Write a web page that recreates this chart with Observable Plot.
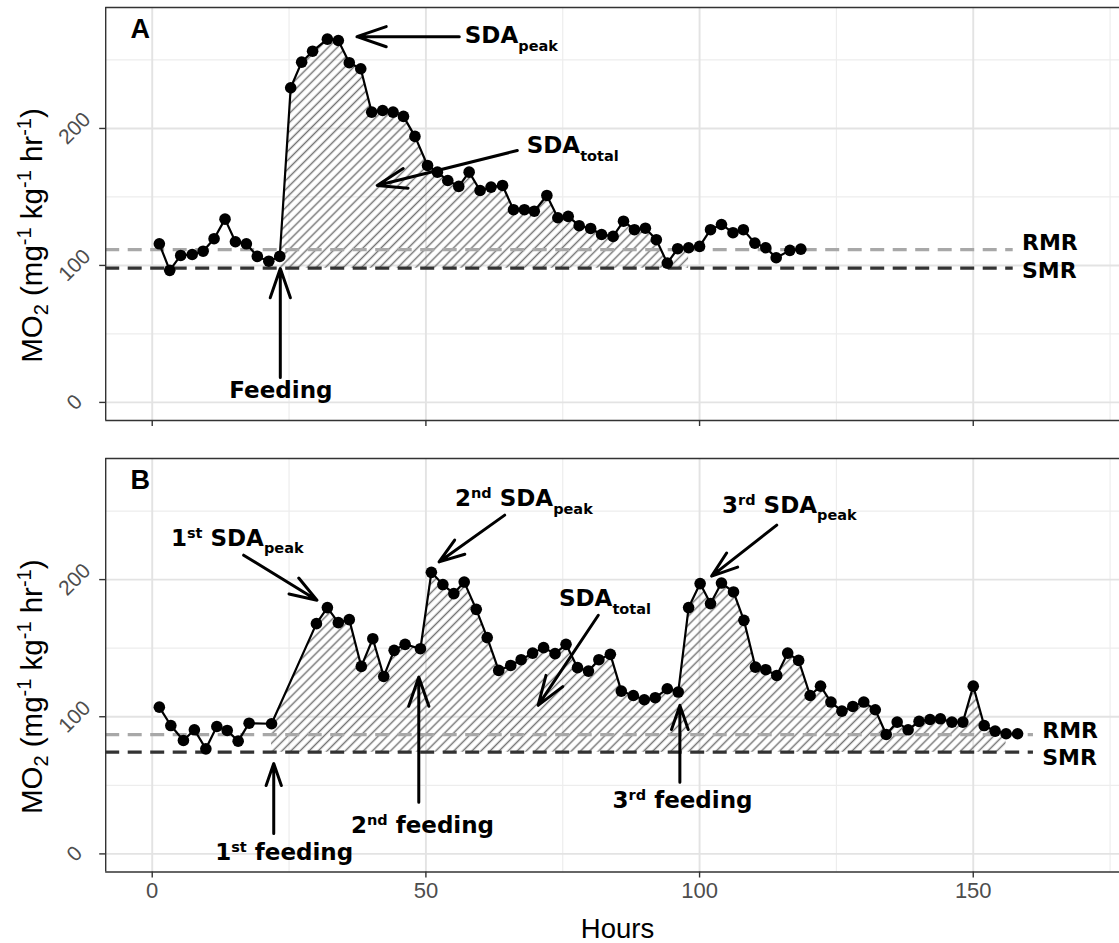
<!DOCTYPE html>
<html>
<head>
<meta charset="utf-8">
<script src="https://cdn.jsdelivr.net/npm/d3@7"></script>
<script src="https://cdn.jsdelivr.net/npm/@observablehq/plot@0.6"></script>
<style>
  html, body { margin: 0; padding: 0; background: #fff; }
  #chart { width: 1119px; }
  #chart svg { display: block; }
</style>
</head>
<body>
<div id="chart"></div>
<script>
// ---------------- DATA ----------------
const hoursA = [1.3,3.2,5.2,7.3,9.3,11.3,13.3,15.2,17.2,19.2,
  21.3,23.3,25.3,27.3,29.3,32.0,34.0,36.0,38.1,40.1,
  42.1,44.0,45.9,48.0,50.3,52.1,54.0,56.0,57.9,59.9,
  61.9,64.0,66.0,68.0,69.8,72.1,74.1,76.0,78.0,80.1,
  82.1,84.2,86.1,88.1,90.1,92.1,94.1,96.0,98.0,100.0,
  102.0,104.0,106.1,108.0,110.1,112.1,114.0,116.5,118.5];
const mo2A = [115.8,96.4,107.3,108.0,110.4,119.5,133.8,117.3,115.8,106.6,
  103.1,106.6,229.7,248.4,256.4,265.2,264.2,248.0,243.6,211.9,
  213.1,211.9,208.8,194.2,173.0,168.1,162.0,157.7,168.1,154.7,
  157.2,158.4,140.7,140.7,139.6,151.1,134.8,135.8,129.0,127.0,
  122.6,121.2,132.3,126.1,127.2,118.8,101.7,112.2,112.9,113.9,
  126.1,129.9,123.9,126.1,116.3,112.9,105.6,111.0,111.9];

const hoursB = [1.3,3.4,5.7,7.7,9.8,11.8,13.7,15.7,17.7,21.8,
  30.0,32.0,34.0,36.0,38.2,40.3,42.3,44.2,46.2,49.0,
  51.0,53.1,55.1,57.0,59.2,61.2,63.3,65.5,67.4,69.5,
  71.5,73.6,75.6,77.7,79.7,81.6,83.7,85.7,87.9,89.9,
  91.9,94.1,96.1,98.0,100.1,102.0,104.0,106.2,108.1,110.2,
  112.1,114.1,116.1,118.1,120.2,122.1,124.0,126.0,128.0,130.0,
  132.1,134.1,136.1,138.1,140.1,142.1,144.0,146.1,148.1,150.0,
  152.0,154.0,156.0,158.1];
const mo2B = [107.0,93.6,82.7,90.5,76.6,92.9,90.0,82.2,95.3,94.9,
  167.9,179.6,168.6,170.8,136.7,156.9,129.4,148.4,152.8,149.6,
  205.3,196.4,189.8,198.2,178.3,157.7,133.8,137.4,141.6,146.4,
  150.4,146.0,152.8,135.8,133.3,141.6,145.5,118.7,115.5,112.4,
  113.9,120.4,118.0,179.6,197.1,182.5,197.5,191.0,170.3,136.2,
  134.3,130.1,146.4,141.1,115.5,122.3,110.7,104.1,107.5,110.7,
  105.1,87.1,96.1,90.5,96.6,98.0,98.5,96.1,96.1,122.3,
  93.6,89.5,87.6,87.6];

const rmrA = 111.5, smrA = 98.0;
const rmrB = 86.9, smrB = 74.2;
const sdaWindowA = [23.3, 98.0];
const sdaWindowB = [21.8, 156.0];
const refLineEndA = 157.3, refLineEndB = 161.0;

const xMajor = [0, 50, 100, 150];
const xMinor = [25, 75, 125, 175];
const yMajor = [0, 100, 200];
const yMinor = [50, 150, 250];
const xTickLabels = ["0", "50", "100", "150"];
const yTickLabels = ["0", "100", "200"];
const xTitle = "Hours";

// annotations (data units: hours, MO2)
const arrowsA = [
  {x1: 56.1, y1: 267.0, x2: 37.4, y2: 267.0},
  {x1: 66.7, y1: 183.9, x2: 41.1, y2: 158.4},
  {x1: 23.4, y1: 18.2, x2: 23.4, y2: 97.8}
];
const labelsA = [
  {x: 57.2, y: 261.8, parts: [["SDA"], ["peak", "sub"]]},
  {x: 68.5, y: 181.5, parts: [["SDA"], ["total", "sub"]]},
  {x: 23.6, y: 2.7, anchor: "middle", parts: [["Feeding"]]}
];
const arrowsB = [
  {x1: 16.7, y1: 217.8, x2: 30.1, y2: 185.0},
  {x1: 64.4, y1: 247.0, x2: 52.4, y2: 212.9},
  {x1: 81.5, y1: 174.0, x2: 70.5, y2: 108.3},
  {x1: 114.1, y1: 239.7, x2: 102.2, y2: 202.5},
  {x1: 22.2, y1: 14.9, x2: 22.2, y2: 66.0},
  {x1: 48.7, y1: 37.7, x2: 48.7, y2: 129.0},
  {x1: 96.4, y1: 52.3, x2: 96.4, y2: 108.3}
];
const labelsB = [
  {x: 3.5, y: 224.4, parts: [["1"], ["st", "sup"], [" SDA"], ["peak", "sub"]]},
  {x: 55.4, y: 253.1, parts: [["2"], ["nd", "sup"], [" SDA"], ["peak", "sub"]]},
  {x: 74.4, y: 180.1, parts: [["SDA"], ["total", "sub"]]},
  {x: 104.2, y: 248.2, parts: [["3"], ["rd", "sup"], [" SDA"], ["peak", "sub"]]},
  {x: 11.6, y: -4.8, parts: [["1"], ["st", "sup"], [" feeding"]]},
  {x: 36.4, y: 14.7, parts: [["2"], ["nd", "sup"], [" feeding"]]},
  {x: 84.2, y: 32.9, parts: [["3"], ["rd", "sup"], [" feeding"]]}
];
const refLabelsA = [{x: 158.9, y: 111.2, text: "RMR"}, {x: 158.9, y: 90.5, text: "SMR"}];
const refLabelsB = [{x: 162.6, y: 84.2, text: "RMR"}, {x: 162.6, y: 64.7, text: "SMR"}];

// ---------------- LAYOUT ----------------
const W = 1119;
const xDomain = [-8.5, 176.72];
const yDomain = [-13.2, 288.3];
const marginLeft = 105.2;
const SANS = "'Liberation Sans', Arial, Helvetica, sans-serif";
const BOLDFONT = "'DejaVu Sans', Verdana, sans-serif";

function panel(o) {
  const data = o.hours.map((h, i) => ({h, v: o.mo2[i]}));
  const sda = data.filter(d => d.h >= o.sda[0] && d.h <= o.sda[1]);
  const ky = (o.height - o.marginTop - o.marginBottom) / (yDomain[1] - yDomain[0]);
  const kx = (W - marginLeft) / (xDomain[1] - xDomain[0]);
  const ink = "#333333";
  const marks = [
    Plot.ruleX(xMinor, {stroke: "#ededed", strokeWidth: 1.2}),
    Plot.ruleY(yMinor, {stroke: "#ededed", strokeWidth: 1.2}),
    Plot.ruleX(xMajor, {stroke: "#e3e3e3", strokeWidth: 1.9}),
    Plot.ruleY(yMajor, {stroke: "#e3e3e3", strokeWidth: 1.9}),
    Plot.areaY(sda, {x: "h", y1: o.smr, y2: "v", fill: `url(#hatch${o.id})`}),
    Plot.ruleY([o.rmr], {x1: xDomain[0], x2: o.lineEnd, stroke: "#a8a8a8", strokeWidth: 3.2, strokeDasharray: "14,8.5"}),
    Plot.ruleY([o.smr], {x1: xDomain[0], x2: o.lineEnd, stroke: "#333333", strokeWidth: 3.2, strokeDasharray: "14,8.5"}),
    Plot.line(data, {x: "h", y: "v", stroke: "black", strokeWidth: 2.2}),
    Plot.dot(data, {x: "h", y: "v", r: 5.8, fill: "black"}),
    Plot.arrow(o.arrows, {x1: "x1", y1: "y1", x2: "x2", y2: "y2", stroke: "black", strokeWidth: 3, headLength: 15.5, headAngle: 38}),
    Plot.text(o.refLabels, {x: "x", y: "y", text: "text", textAnchor: "start", lineAnchor: "bottom",
      fontFamily: BOLDFONT, fontWeight: "bold", fontSize: 22, fill: "black"}),
    Plot.text([o.tag], {x: -2.2, y: 266, text: d => d, textAnchor: "middle", lineAnchor: "bottom",
      fontFamily: SANS, fontWeight: "bold", fontSize: 27, fill: "black"}),
    // panel border (right edge lies beyond the picture)
    Plot.ruleX([xDomain[0]], {stroke: ink, strokeWidth: 1.4}),
    Plot.ruleY(yDomain, {stroke: ink, strokeWidth: 1.4}),
    // ticks
    Plot.ruleX(xMajor, {y1: yDomain[0], y2: yDomain[0] - 6 / ky, stroke: ink, strokeWidth: 1.4}),
    Plot.ruleY(yMajor, {x1: xDomain[0] - 6 / kx, x2: xDomain[0], stroke: ink, strokeWidth: 1.4}),
    Plot.text(yMajor, {x: xDomain[0], y: d => d, text: (d, i) => yTickLabels[i], dx: -31, rotate: -45,
      textAnchor: "middle", lineAnchor: "middle", fontSize: 21, fill: "#4d4d4d", fontFamily: SANS})
  ];
  if (o.xLabels) {
    marks.push(
      Plot.text(xMajor, {x: d => d, frameAnchor: "bottom", dy: 18.5, text: (d, i) => xTickLabels[i],
        fontSize: 22, fill: "#4d4d4d", fontFamily: SANS, lineAnchor: "middle"}),
      Plot.text([xTitle], {x: (xDomain[0] + 178.5) / 2, frameAnchor: "bottom", dy: 57, text: d => d,
        fontSize: 27.5, fill: "black", fontFamily: SANS, lineAnchor: "middle"})
    );
  }
  const chart = Plot.plot({
    width: W, height: o.height,
    marginLeft, marginRight: 0, marginTop: o.marginTop, marginBottom: o.marginBottom,
    x: {domain: xDomain, axis: null},
    y: {domain: yDomain, axis: null},
    style: {fontFamily: SANS, background: "white", overflow: "visible"},
    marks
  });

  const svg = d3.select(chart);
  const xsc = chart.scale("x"), ysc = chart.scale("y");
  const xs = d3.scaleLinear(xsc.domain, xsc.range);
  const ys = d3.scaleLinear(ysc.domain, ysc.range);

  // hatch pattern
  const defs = svg.insert("defs", ":first-child");
  const pat = defs.append("pattern").attr("id", `hatch${o.id}`).attr("patternUnits", "userSpaceOnUse")
    .attr("width", 6.4).attr("height", 6.4).attr("patternTransform", "rotate(45)");
  pat.append("line").attr("x1", 3.2).attr("y1", -1).attr("x2", 3.2).attr("y2", 7.4)
    .attr("stroke", "#737373").attr("stroke-width", 1.45);

  // y axis title with sub/superscripts
  const ty = (o.marginTop + o.height - o.marginBottom) / 2 + 22;
  const title = svg.append("text").attr("transform", `translate(42,${ty}) rotate(-90)`)
    .attr("text-anchor", "middle").attr("font-family", SANS).attr("font-size", 29.5).attr("fill", "black")
    .style("white-space", "pre");
  const titleParts = [["MO", 0, 29.5], ["2", 6, 20], [" (mg", 0, 29.5], ["-1", -11, 20], [" kg", 0, 29.5], ["-1", -11, 20], [" hr", 0, 29.5], ["-1", -11, 20], [")", 0, 29.5]];
  let cur = 0;
  for (const [s, off, fs] of titleParts) {
    title.append("tspan").attr("dy", off - cur).attr("font-size", fs).text(s);
    cur = off;
  }

  // rich annotation labels
  for (const lab of o.labels) {
    const t = svg.append("text").attr("x", xs(lab.x)).attr("y", ys(lab.y))
      .attr("font-family", BOLDFONT).attr("font-weight", "bold").attr("font-size", 23).attr("fill", "black")
      .attr("text-anchor", lab.anchor || "start").style("white-space", "pre");
    let c = 0;
    for (const [s, kind] of lab.parts) {
      const off = kind === "sub" ? 7.5 : kind === "sup" ? -8 : 0;
      const fs = kind ? 14.5 : 23;
      t.append("tspan").attr("dy", off - c).attr("font-size", fs).text(s);
      c = off;
    }
  }
  return chart;
}

const root = document.getElementById("chart");
root.appendChild(panel({
  id: "A", tag: "A", hours: hoursA, mo2: mo2A, rmr: rmrA, smr: smrA, sda: sdaWindowA, lineEnd: refLineEndA,
  arrows: arrowsA, labels: labelsA, refLabels: refLabelsA,
  height: 440, marginTop: 7, marginBottom: 20, xLabels: false
}));
root.appendChild(panel({
  id: "B", tag: "B", hours: hoursB, mo2: mo2B, rmr: rmrB, smr: smrB, sda: sdaWindowB, lineEnd: refLineEndB,
  arrows: arrowsB, labels: labelsB, refLabels: refLabelsB,
  height: 503, marginTop: 18, marginBottom: 71.5, xLabels: true
}));
</script>
</body>
</html>
